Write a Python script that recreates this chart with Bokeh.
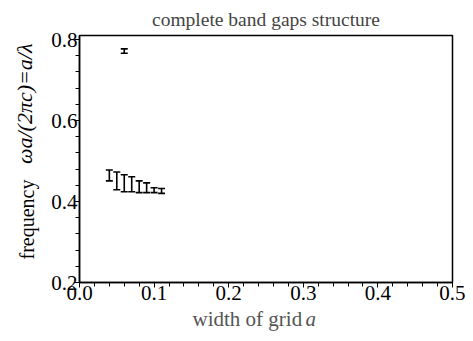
import math
from bokeh.plotting import figure
from bokeh.models import (ColumnDataSource, Whisker, TeeHead, FixedTicker, Title, Range1d)
from bokeh.embed import file_html
from bokeh.resources import INLINE

# data: band gap edges (lower/upper normalized frequency) vs grid width
width = [0.04, 0.05, 0.06, 0.07, 0.08, 0.09, 0.10, 0.11, 0.06]
gap_upper = [0.478, 0.473, 0.466, 0.461, 0.451, 0.446, 0.434, 0.432, 0.777]
gap_lower = [0.451, 0.429, 0.424, 0.424, 0.422, 0.422, 0.422, 0.420, 0.766]

x_ticks = [0.0, 0.1, 0.2, 0.3, 0.4, 0.5]
y_ticks = [0.2, 0.4, 0.6, 0.8]

FONT = "Liberation Serif"

p = figure(width=465, height=333, output_backend="svg", toolbar_location=None,
           x_range=Range1d(0, 0.5), y_range=Range1d(0.2, 0.81),
           min_border_left=79, min_border_right=13, min_border_top=35, min_border_bottom=48)
p.title.text = "complete band gaps structure"
p.title.align = "center"
p.title.vertical_align = "top"
p.title.text_font = FONT
p.title.text_font_size = "19.5px"
p.title.text_font_style = "normal"
p.title.offset = 0
p.title.standoff = 8

p.grid.visible = False
p.outline_line_color = "black"
p.outline_line_width = 1.5
p.background_fill_color = "white"
p.border_fill_color = "white"

src = ColumnDataSource(dict(x=width, up=gap_upper, lo=gap_lower))
w = Whisker(source=src, base="x", upper="up", lower="lo", line_color="black", line_width=1.6,
            upper_head=TeeHead(size=7, line_width=1.6, line_color="black"),
            lower_head=TeeHead(size=7, line_width=1.6, line_color="black"))
p.add_layout(w)
p.scatter(x="x", y="up", source=src, size=0, alpha=0)

minor_x = [round(i * 0.02, 3) for i in range(26)]
minor_y = [round(0.2 + i * 0.04, 3) for i in range(16)]
p.xaxis.ticker = FixedTicker(ticks=x_ticks, minor_ticks=minor_x)
p.yaxis.ticker = FixedTicker(ticks=y_ticks, minor_ticks=minor_y)
for ax in (p.xaxis, p.yaxis):
    ax.major_label_text_font = FONT
    ax.major_label_text_font_size = "21px"
    ax.major_label_text_color = "black"
    ax.axis_line_color = "black"
    ax.axis_line_width = 1.5
    ax.major_tick_line_color = "black"
    ax.minor_tick_line_color = "black"
    ax.major_tick_out = 5
    ax.major_tick_in = 0
    ax.minor_tick_out = 4
    ax.minor_tick_in = 0
p.xaxis.major_label_standoff = -2
p.yaxis.major_label_standoff = -3
p.xaxis.major_label_overrides = {0.0: "0.0"}

# axis titles as side-panel titles (mixed upright/italic)
t_freq = Title(text="frequency", align="left", text_font=FONT, text_font_size="20px",
               text_font_style="normal", text_color="black", offset=23, standoff=22)
t_omega = Title(text="ωa/(2πc)=a/λ", align="right", text_font=FONT, text_font_size="22px",
                text_font_style="italic", text_color="black", offset=8, standoff=-68)
p.add_layout(t_freq, "left")
p.add_layout(t_omega, "left")

t_w = Title(text="width of grid", align="left", text_font=FONT, text_font_size="21px",
            text_font_style="normal", text_color="#555555", offset=113, standoff=5)
t_a = Title(text="a", align="left", vertical_align="top", text_font=FONT, text_font_size="21px",
            text_font_style="italic", text_color="#555555", offset=226, standoff=-53)
p.add_layout(t_w, "below")
p.add_layout(t_a, "below")

open("out.html", "w").write(file_html(p, INLINE))
